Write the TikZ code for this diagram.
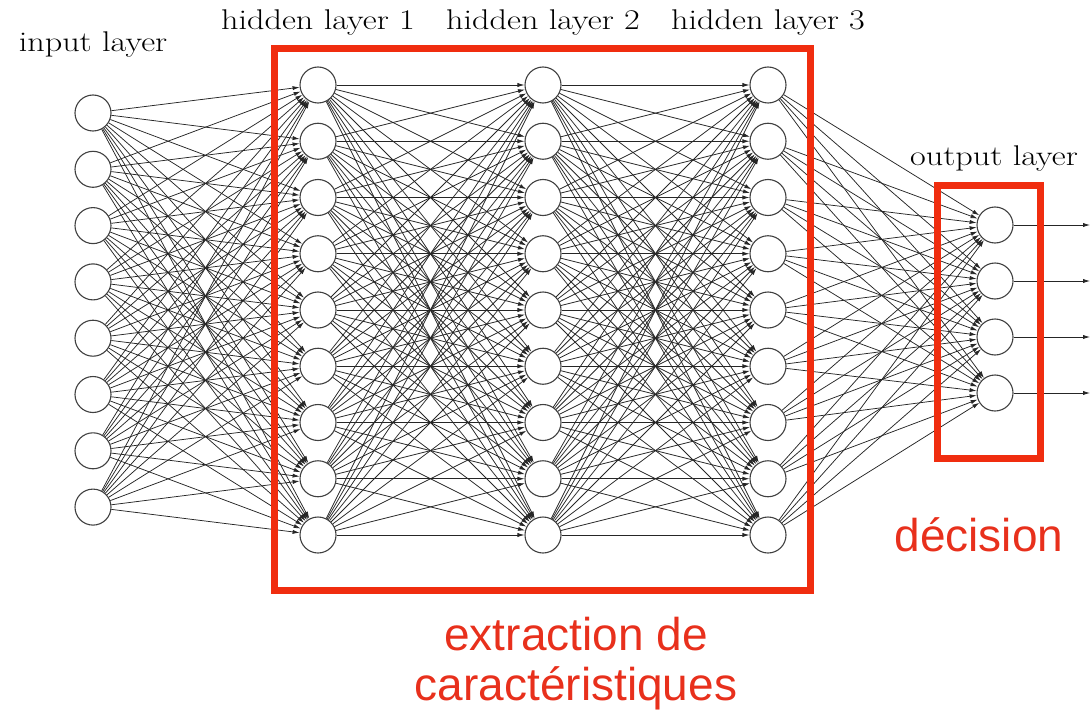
\documentclass[tikz,border=0pt]{standalone}
\usepackage{fontspec}
\newfontfamily\redfont{Liberation Sans}
\usetikzlibrary{arrows.meta}
\definecolor{redbox}{RGB}{240,45,15}
\definecolor{redtext}{RGB}{232,48,28}
\newcommand{\widetxt}[1]{\scalebox{1.2}[1]{#1}}
\begin{document}
\begin{tikzpicture}[x=1pt,y=-1pt,
  neuron/.style={circle, draw=black!75, line width=1.1pt, fill=white, minimum size=36pt, inner sep=0pt},
  conn/.style={draw=black!85, line width=0.75pt, -{Latex[length=7pt,width=4.2pt]}},
  lbl/.style={font=\fontsize{28.5}{34}\selectfont, anchor=base, inner sep=0pt},
  redtxt/.style={font=\redfont\fontsize{46}{50}\selectfont, text=redtext, anchor=base, inner sep=0pt},
  redframe/.style={draw=redbox, line width=7pt}]
\useasboundingbox (0,0) rectangle (1091,714);
% neurons
\foreach \i in {1,...,8} \node[neuron] (I-\i) at (93,{113+56.3*(\i-1)}) {};
\foreach \l/\x in {1/318,2/543,3/768}
  \foreach \i in {1,...,9} \node[neuron] (H\l-\i) at (\x,{85+56.25*(\i-1)}) {};
\foreach \i in {1,...,4} \node[neuron] (O-\i) at (995,{225+56*(\i-1)}) {};
% connections
\foreach \i in {1,...,8} \foreach \j in {1,...,9} \draw[conn] (I-\i) -- (H1-\j);
\foreach \i in {1,...,9} \foreach \j in {1,...,9} \draw[conn] (H1-\i) -- (H2-\j);
\foreach \i in {1,...,9} \foreach \j in {1,...,9} \draw[conn] (H2-\i) -- (H3-\j);
\foreach \i in {1,...,9} \foreach \j in {1,...,4} \draw[conn] (H3-\i) -- (O-\j);
\foreach \i in {1,...,4} {
  \coordinate (E-\i) at (1090,{225+56*(\i-1)});
  \draw[conn] (O-\i) -- (E-\i);
}
% labels
\node[lbl] (Lin) at (93,52) {\widetxt{input layer}};
\node[lbl] (Lh1) at (318,30) {\widetxt{hidden layer 1}};
\node[lbl] (Lh2) at (543,30) {\widetxt{hidden layer 2}};
\node[lbl] (Lh3) at (768,30) {\widetxt{hidden layer 3}};
\node[lbl] (Lout) at (994,165) {\widetxt{output layer}};
% red frames
\draw[redframe] (274,49) rectangle (810,590);
\draw[redframe] (937,185) rectangle (1040,458);
% red texts
\node[redtxt] (Tdec) at (979,551) {décision};
\node[redtxt] (Tex1) at (576,650) {extraction de};
\node[redtxt] (Tex2) at (576,700) {caractéristiques};
\end{tikzpicture}
\end{document}
